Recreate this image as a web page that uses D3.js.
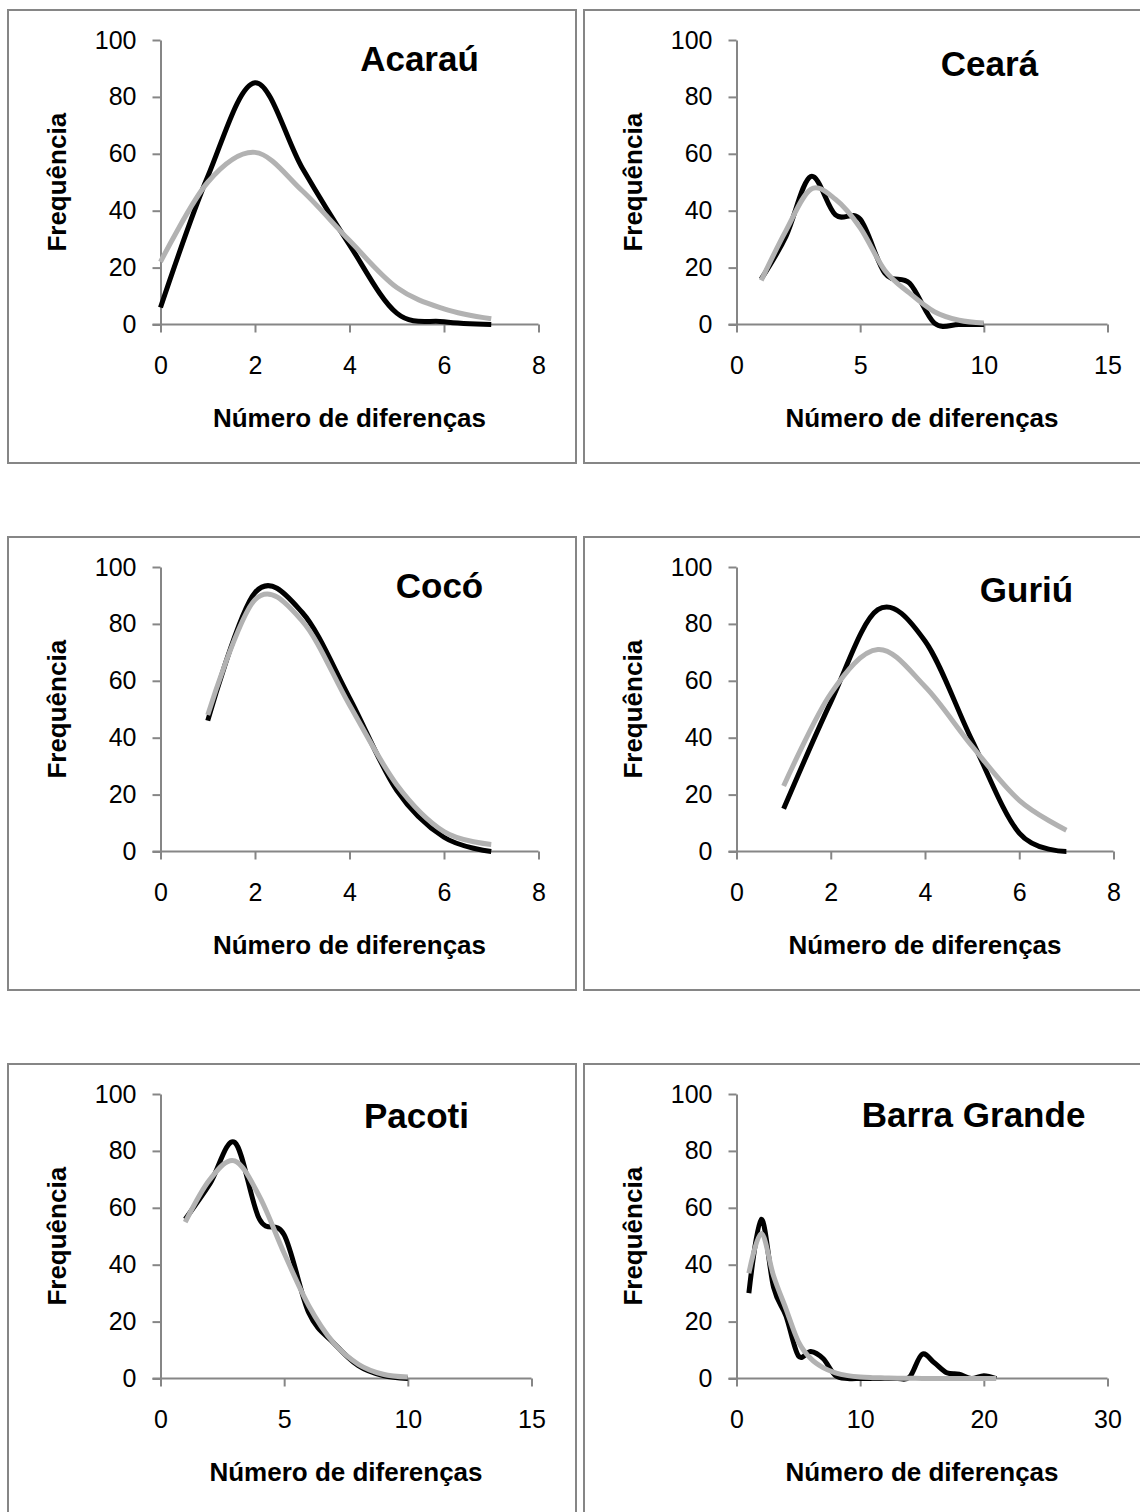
<!DOCTYPE html>
<html>
<head>
<meta charset="utf-8">
<script src="https://cdn.jsdelivr.net/npm/d3@7"></script>
<style>
  body { margin: 0; background: #fff; }
  svg { display: block; }
  text { font-family: "Liberation Sans", Arial, sans-serif; fill: #000; }
</style>
</head>
<body>
<svg id="chart"></svg>
<script>
const yTicks = [0, 20, 40, 60, 80, 100];

const xAcarau = [0, 1, 2, 3, 4, 5, 6, 7];
const obsAcarau = [6, 52, 85, 55, 28, 4, 1, 0];
const expAcarau = [22, 50, 60.5, 47, 29.5, 13, 5.5, 2];

const xCeara = [1, 2, 3, 4, 5, 6, 7, 8, 9, 10];
const obsCeara = [16, 31, 52, 38.5, 37, 18, 14.5, 0.5, 0, 0];
const expCeara = [15.5, 33, 47.5, 44, 34, 19, 11, 4.5, 1.5, 0.5];

const xCoco = [1, 2, 3, 4, 5, 6, 7];
const obsCoco = [46, 91, 84, 54, 21.5, 5, 0];
const expCoco = [48, 88.5, 81, 51.5, 23.5, 7, 2.5];

const xGuriu = [1, 2, 3, 4, 5, 6, 7];
const obsGuriu = [15, 52.5, 85, 74, 39, 6.5, 0];
const expGuriu = [23, 55.5, 71, 58, 37, 18, 7.5];

const xPacoti = [1, 2, 3, 4, 5, 6, 7, 8, 9, 10];
const obsPacoti = [56, 68.5, 83, 56, 50.5, 23, 12.5, 4.5, 1, 0];
const expPacoti = [55, 70, 76.5, 64, 44, 25.5, 12.5, 5, 1.5, 0.5];

const xBarra = [1, 2, 3, 4, 5, 6, 7, 8, 9, 10, 11, 12, 13, 14, 15, 16, 17, 18, 19, 20, 21];
const obsBarra = [30, 56, 32, 22, 8, 9.5, 7, 1, 0, 0, 0, 0, 0, 0.5, 8.5, 5.5, 2, 1.5, 0, 1, 0];
const expBarra = [37, 51, 36, 24.5, 13, 7, 3.8, 2, 1, 0.5, 0.3, 0.2, 0.1, 0.1, 0, 0, 0, 0, 0, 0, 0];

const panels = [
  { name: "Acaraú", x: xAcarau, obs: obsAcarau, exp: expAcarau, xMax: 8, xTicks: [0, 2, 4, 6, 8], col: 0, row: 0, plotW: 378, titleDx: 259, titleY: 61 },
  { name: "Ceará", x: xCeara, obs: obsCeara, exp: expCeara, xMax: 15, xTicks: [0, 5, 10, 15], col: 1, row: 0, plotW: 371, titleDx: 253, titleY: 66 },
  { name: "Cocó", x: xCoco, obs: obsCoco, exp: expCoco, xMax: 8, xTicks: [0, 2, 4, 6, 8], col: 0, row: 1, plotW: 378, titleDx: 279, titleY: 61 },
  { name: "Guriú", x: xGuriu, obs: obsGuriu, exp: expGuriu, xMax: 8, xTicks: [0, 2, 4, 6, 8], col: 1, row: 1, plotW: 377, titleDx: 290, titleY: 65 },
  { name: "Pacoti", x: xPacoti, obs: obsPacoti, exp: expPacoti, xMax: 15, xTicks: [0, 5, 10, 15], col: 0, row: 2, plotW: 371, titleDx: 256, titleY: 64 },
  { name: "Barra Grande", x: xBarra, obs: obsBarra, exp: expBarra, xMax: 30, xTicks: [0, 10, 20, 30], col: 1, row: 2, plotW: 371, titleDx: 237, titleY: 63 }
];

const W = 1140, H = 1512;
const svg = d3.select("#chart").attr("width", W).attr("height", H);

const boxX = [8, 584];
const boxW = [568, 570];
const boxY0 = 10, rowStep = 527, boxH = 453;
const axisColor = "#868686";

panels.forEach(p => {
  const bx = boxX[p.col];
  const by = boxY0 + p.row * rowStep;

  svg.append("rect")
    .attr("x", bx).attr("y", by)
    .attr("width", boxW[p.col]).attr("height", boxH)
    .attr("fill", "none")
    .attr("stroke", axisColor)
    .attr("stroke-width", 2);

  const left = bx + 152.5;
  const top = by + 30;
  const bottom = by + 314.5;

  const x = d3.scaleLinear().domain([0, p.xMax]).range([left, left + p.plotW]);
  const y = d3.scaleLinear().domain([0, 100]).range([bottom, top]);

  const g = svg.append("g");

  const yAxis = g.append("g")
    .attr("transform", `translate(${left},0)`)
    .call(d3.axisLeft(y).tickValues(yTicks).tickSize(8).tickSizeOuter(0).tickPadding(16));

  const xAxis = g.append("g")
    .attr("transform", `translate(0,${bottom})`)
    .call(d3.axisBottom(x).tickValues(p.xTicks).tickSize(8).tickSizeOuter(0).tickPadding(24));

  [yAxis, xAxis].forEach(a => {
    a.select(".domain").attr("stroke", axisColor).attr("stroke-width", 2);
    a.selectAll(".tick line").attr("stroke", axisColor).attr("stroke-width", 2);
    a.selectAll(".tick text")
      .attr("fill", "#000")
      .style("font-size", "25px")
      .style("font-family", '"Liberation Sans", Arial, sans-serif');
  });
  // x-axis line also runs across the y tick at 0
  xAxis.select(".domain").attr("d", `M${left - 8},0H${left + p.plotW}`);

  const line = d3.line()
    .x((d, i) => x(p.x[i]))
    .y(d => y(d))
    .curve(d3.curveCardinal.tension(0));

  g.append("path")
    .attr("d", line(p.obs))
    .attr("fill", "none")
    .attr("stroke", "#000")
    .attr("stroke-width", 5)
    .attr("stroke-linejoin", "round");

  g.append("path")
    .attr("d", line(p.exp))
    .attr("fill", "none")
    .attr("stroke", "#b2b2b2")
    .attr("stroke-width", 5)
    .attr("stroke-linejoin", "round");

  // titles
  g.append("text")
    .attr("x", left + p.titleDx)
    .attr("y", by + p.titleY)
    .attr("text-anchor", "middle")
    .style("font-size", "35px")
    .style("font-weight", "bold")
    .text(p.name);

  g.append("text")
    .attr("x", left + p.plotW / 2)
    .attr("y", bottom + 102)
    .attr("text-anchor", "middle")
    .style("font-size", "26px")
    .style("font-weight", "bold")
    .text("Número de diferenças");

  g.append("text")
    .attr("transform", `translate(${left - 95},${(top + bottom) / 2}) rotate(-90)`)
    .attr("text-anchor", "middle")
    .style("font-size", "26px")
    .style("font-weight", "bold")
    .text("Frequência");
});
</script>
</body>
</html>
